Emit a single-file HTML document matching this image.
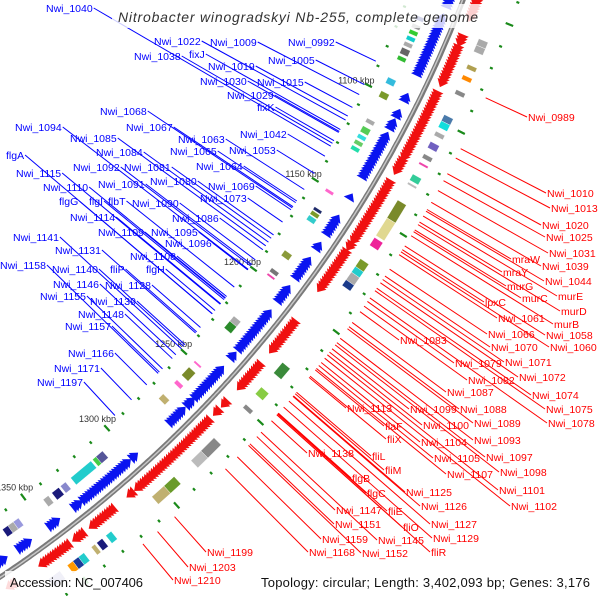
<!DOCTYPE html>
<html><head><meta charset="utf-8"><style>
html,body{margin:0;padding:0;background:#fff;overflow:hidden;width:600px;height:600px;}
svg{display:block;font-family:"Liberation Sans",sans-serif;overflow:hidden;}
</style></head><body>
<svg id="map" width="600" height="600" viewBox="0 0 600 600" xmlns="http://www.w3.org/2000/svg">
<defs><clipPath id="frame"><rect width="600" height="600"/></clipPath></defs>
<rect width="600" height="600" fill="#fff"/>
<g clip-path="url(#frame)">
<g id="ticks"></g><g id="boxes"></g><g id="genes"></g><g id="labels"></g><g id="overlay"></g>
</g>
</svg>
<script>
// ---- data (kbp) ----
const blueClusters=[[1044,1053],[1058,1086],[1097,1099],[1105,1107],[1110,1113],[1116,1138],[1148,1149],[1160,1168],[1174,1176],[1182,1192],[1198,1205],[1212,1233],[1236,1238],[1244,1262],[1264,1267],[1270,1278],[1299,1301],[1304,1330],[1332,1335],[1345,1349],[1360,1366],[1373,1378]];
const redClusters=[[1044,1052],[1061,1064],[1066,1083],[1088,1120],[1121,1127],[1132,1163],[1164,1166],[1168,1188],[1206,1222],[1230,1243],[1252,1254],[1257,1259],[1263,1306],[1309,1311],[1320,1332],[1337,1341],[1345,1360],[1374,1377]];
const blueBoxes=[[1061,1063,'#1e2a8a'],[1065,1067,'#999'],[1068,1070,'#33cc33'],[1071,1073,'#11cccc'],[1074,1076,'#aaa'],[1077,1080,'#666'],[1081,1083,'#33bb33'],[1092,1095,'#33bbdd'],[1099,1102,'#7a9a2a'],[1113,1115,'#aaa'],[1117,1120,'#55cc55'],[1121,1123,'#33dddd'],[1124,1126,'#66cc66'],[1127,1129,'#22ddaa'],[1150,1151.5,'#ff66cc'],[1160,1161.5,'#1e2a6a'],[1162,1164,'#7a9a2a'],[1164.5,1167,'#33cccc'],[1184,1187,'#8a9a3a'],[1194,1196,'#777'],[1197,1198,'#ee44aa'],[1222,1225,'#aaa'],[1225,1229,'#2a8a2a'],[1249,1250,'#ff66cc'],[1253,1258,'#7a8a2a'],[1261,1263,'#ff66cc'],[1270,1273,'#c0b070'],[1308,1312,'#555599'],[1312,1314,'#44cc44'],[1315,1327,'#22cccc'],[1330,1333,'#8888cc'],[1334,1338,'#1a1a7a'],[1340,1343,'#aaa'],[1357,1360,'#9999dd'],[1360,1363,'#aaa'],[1363,1366,'#1a1a7a']];
const redBoxes=[[1060,1063,'#aaa'],[1063,1066,'#aaa'],[1072,1074,'#b0a050'],[1077,1079,'#ff8800'],[1084,1086,'#888'],[1096,1099,'#4a7aaa'],[1099,1102,'#11dddd'],[1104,1106,'#aaa'],[1109,1112,'#7060c0'],[1115,1117,'#888'],[1119,1120,'#ee44aa'],[1125,1128,'#33cc99'],[1129,1130,'#bbb'],[1138,1147,'#7a8a2a'],[1147,1156,'#e0d890'],[1157,1161,'#ee2299'],[1168,1172,'#7a9a2a'],[1172,1175,'#22cccc'],[1175,1179,'#aaa'],[1179,1182,'#1a3a8a'],[1224,1230,'#3a8a3a'],[1238,1242,'#88cc44'],[1248,1250,'#888'],[1268,1276,'#888'],[1276,1282,'#bbb'],[1292,1298,'#6a9a2a'],[1298,1305,'#c0b070'],[1328,1331,'#22cccc'],[1333,1336,'#1a1a7a'],[1337,1339,'#c0b070'],[1343,1346,'#22cccc'],[1346,1349,'#1a3a9a'],[1349,1352,'#ff9900'],[1356,1362,'#9999cc']];
const tickLabels=[1100,1150,1200,1250,1300,1350];
const blueLabels=[['Nwi_1040',46,12],['Nwi_1022',154,45],['Nwi_1038',134,60],['fixJ',189,58],['Nwi_1009',210,46],['Nwi_0992',288,46],['Nwi_1019',208,70],['Nwi_1005',268,64],['Nwi_1030',200,85],['Nwi_1015',257,86],['Nwi_1029',227,99],['fixK',257,111],['Nwi_1042',240,138],['Nwi_1053',229,154],['Nwi_1068',100,115],['Nwi_1067',126,131],['Nwi_1063',178,143],['Nwi_1065',170,155],['Nwi_1064',196,170],['Nwi_1094',15,131],['Nwi_1085',70,142],['Nwi_1084',96,156],['flgA',6,159],['Nwi_1092',73,171],['Nwi_1081',124,171],['Nwi_1080',150,185],['Nwi_1069',208,190],['Nwi_1073',200,202],['Nwi_1115',16,177],['Nwi_1110',43,191],['Nwi_1091',98,188],['flgG',59,205],['flgI',89,205],['flbT',108,205],['Nwi_1090',132,207],['Nwi_1086',172,222],['Nwi_1114',70,221],['Nwi_1109',98,236],['Nwi_1095',151,236],['Nwi_1096',165,247],['Nwi_1141',13,241],['Nwi_1131',55,254],['Nwi_1108',130,260],['Nwi_1158',0,269],['Nwi_1140',52,273],['fliP',110,273],['flgH',146,273],['Nwi_1146',53,288],['Nwi_1128',105,289],['Nwi_1155',40,300],['Nwi_1139',90,305],['Nwi_1148',78,318],['Nwi_1157',65,330],['Nwi_1166',68,357],['Nwi_1171',54,372],['Nwi_1197',37,386]];
const redLabels=[['Nwi_0989',528,121],['Nwi_1010',547,197],['Nwi_1013',551,212],['Nwi_1020',542,229],['Nwi_1025',546,241],['Nwi_1031',549,257],['Nwi_1039',542,270],['mraW',512,263],['mraY',503,276],['Nwi_1044',545,285],['murG',507,290],['murC',522,302],['murE',558,300],['lpxC',485,306],['murD',561,315],['Nwi_1061',498,322],['murB',554,328],['Nwi_1066',488,338],['Nwi_1058',546,339],['Nwi_1083',400,344],['Nwi_1070',491,351],['Nwi_1060',550,351],['Nwi_1079',455,367],['Nwi_1071',505,366],['Nwi_1082',468,384],['Nwi_1072',519,381],['Nwi_1074',532,399],['Nwi_1075',546,413],['Nwi_1078',548,427],['Nwi_1087',447,396],['Nwi_1113',347,412],['Nwi_1099',410,413],['Nwi_1088',460,413],['Nwi_1100',423,429],['Nwi_1089',474,427],['flaF',385,430],['fliX',387,443],['Nwi_1104',421,446],['Nwi_1093',474,444],['Nwi_1105',434,462],['Nwi_1097',486,461],['Nwi_1107',447,478],['Nwi_1098',500,476],['Nwi_1138',308,457],['fliL',372,460],['fliM',385,474],['flgB',352,482],['flgC',367,497],['Nwi_1125',406,496],['Nwi_1101',499,494],['Nwi_1126',421,510],['Nwi_1102',511,510],['Nwi_1147',336,514],['fliE',388,515],['Nwi_1127',431,528],['Nwi_1151',335,528],['fliO',403,531],['Nwi_1159',322,543],['Nwi_1145',378,544],['Nwi_1129',433,542],['Nwi_1168',309,556],['Nwi_1152',362,557],['fliR',431,556],['Nwi_1199',207,556],['Nwi_1203',189,571],['Nwi_1210',174,584]];

// ---- geometry ----
const CX=-680, CY=-443, RB=1226, NS='http://www.w3.org/2000/svg';
function ang(k){return (26.8+(k-1100)*0.1058)*Math.PI/180;}
function pt(k,r){const a=ang(k);return [CX+r*Math.cos(a),CY+r*Math.sin(a)];}
function mk(tag,attrs,parent){const e=document.createElementNS(NS,tag);for(const k in attrs)e.setAttribute(k,attrs[k]);parent.appendChild(e);return e;}
function sector(k1,k2,r1,r2){const a=pt(k1,r1),b=pt(k2,r1),c=pt(k2,r2),d=pt(k1,r2);return `M${a}L${b}L${c}L${d}Z`;}

const gT=document.getElementById('ticks'),gB=document.getElementById('boxes'),gG=document.getElementById('genes'),gL=document.getElementById('labels'),gO=document.getElementById('overlay');

// backbone
let d='';for(let k=1040;k<=1385;k+=1){const p=pt(k,RB);d+=(k===1040?'M':'L')+p[0].toFixed(1)+','+p[1].toFixed(1);}
let bb=mk('path',{d:d,fill:'none',stroke:'#7a7a7a','stroke-width':5},gT);


let bb2=mk('path',{d:d,fill:'none',stroke:'#c8c8c8','stroke-width':1.5,transform:'translate(-1,1)'},gT);



// ticks
for(let k=1040;k<=1380;k+=10){
  const major=(k%50===0);
  [[1174,'blue'],[1278,'red']].forEach(([r,s])=>{
    const len=major?4:1.5;const p1=pt(k-0.5,r-len),p2=pt(k-0.5,r+len);
    const t=mk('line',{x1:p1[0],y1:p1[1],x2:p2[0],y2:p2[1],stroke:'#1a8a1a','stroke-width':2.2},gT);
    
    
  });
}
tickLabels.forEach(k=>{
  const p=pt(k,1161);
  const t=mk('text',{x:p[0],y:p[1]+3,'font-size':9,fill:'#333','text-anchor':'middle'},gT);
  t.textContent=k+' kbp';
  
  
});

// boxes
blueBoxes.forEach(b=>{const e=mk('path',{d:sector(b[0],b[1],1188,1197),fill:b[2],stroke:'#fff','stroke-width':0.4},gB);
  
  });
redBoxes.forEach(b=>{const e=mk('path',{d:sector(b[0],b[1],1255,1265),fill:b[2],stroke:'#fff','stroke-width':0.4},gB);
  
  });

// genes
function arrow(k,dir,r0,r1,col){
  const a=pt(k,r0),b=pt(k,r1),c=pt(k+dir*3.2,(r0+r1)/2);
  const e=mk('path',{d:`M${a}L${b}L${c}Z`,fill:col},gG);
  
  
}
blueClusters.forEach(c=>{for(let k=c[1];k>=c[0];k-=1.3)arrow(k,-1,1207,1219,'#0a14f0');});
redClusters.forEach(c=>{for(let k=c[0];k<=c[1];k+=1.3)arrow(k,1,1233,1245,'#f01010');});

// labels
function label(txt,x,y,col,side){
  const t=mk('text',{x:x,y:y,'font-size':10.5,fill:col},gL);
  t.textContent=txt;
  
  
  const w=t.getComputedTextLength();
  let px,py,tr;
  if(side==='in'){px=x+w+1;py=y-4;tr=1170;}else{px=x-1;py=y-4;tr=1285;}
  const dx=px-CX,dy=py-CY,r=Math.hypot(dx,dy);
  const qx=CX+dx/r*tr,qy=CY+dy/r*tr;
  const l=mk('line',{x1:px,y1:py,x2:qx,y2:qy,stroke:col,'stroke-width':1},gL);
  
  
}
blueLabels.forEach(l=>label(l[0],l[1],l[2],'#0000ff','in'));
redLabels.forEach(l=>label(l[0],l[1],l[2],'#ff0000','out'));

// overlays
let r1=mk('rect',{x:112,y:4,width:374,height:24,fill:'#fff','fill-opacity':0.8},gO);


let tt=mk('text',{x:118,y:22,'font-size':14,'font-style':'italic',fill:'#333',textLength:360,lengthAdjust:'spacing'},gO);
tt.textContent='Nitrobacter winogradskyi Nb-255, complete genome';


let r2=mk('rect',{x:5,y:571,width:143,height:22,fill:'#fff','fill-opacity':0.85},gO);


let ta=mk('text',{x:10,y:587,'font-size':13,fill:'#111',textLength:133,lengthAdjust:'spacing'},gO);
ta.textContent='Accession: NC_007406';


let r3=mk('rect',{x:256,y:571,width:340,height:22,fill:'#fff','fill-opacity':0.85},gO);


let tp=mk('text',{x:261,y:587,'font-size':13,fill:'#111',textLength:329,lengthAdjust:'spacing'},gO);
tp.textContent='Topology: circular; Length: 3,402,093 bp; Genes: 3,176';


</script>
</body></html>
